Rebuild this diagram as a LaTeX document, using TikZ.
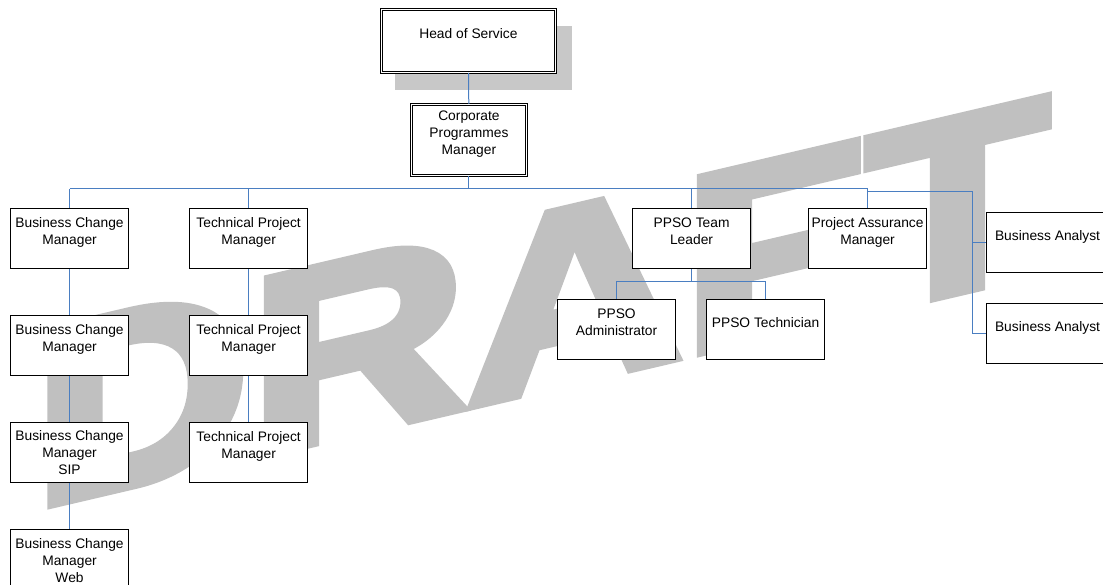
\documentclass[tikz,border=0pt]{standalone}
\usepackage{fontspec}
\setmainfont{Liberation Sans}
\newfontfamily\draftfont{Liberation Sans Bold}[FakeBold=4]
\usetikzlibrary{positioning,
                shadows
                }
\definecolor{orgline}{RGB}{74,126,193}
\definecolor{wmgrey}{RGB}{192,192,192}
\definecolor{shadowgrey}{RGB}{200,200,200}

\begin{document}
\begin{tikzpicture}[
        x = 1pt, y = -1pt,
        node distance = 46pt and 60pt,
        post/.style = {draw, fill=white, line width=1.1pt, minimum width=118pt, minimum height=60pt,
                       inner sep=0pt, align=center, font=\fontsize{13.8}{17}\selectfont},
        chief/.style = {post, double, double distance=1.6pt, line width=0.9pt},
        link/.style = {draw=orgline, line width=1pt},
        stamp/.style = {text=wmgrey, inner sep=0pt, font=\draftfont\fontsize{252}{252}\selectfont,
                        yslant=0.234, xscale=1.19}
    ]
    \useasboundingbox (0,0) rectangle (1103,585);
    \node (draft) [stamp, anchor=base west] at (33,508) {DRAFT};

    \node (head) [chief, minimum width=174pt, minimum height=63pt, anchor=north west,
                  drop shadow={shadow xshift=15pt, shadow yshift=-17pt, shadow scale=1.02,
                               fill=shadowgrey, opacity=1}]
        at (381,9) {Head of Service\\[-2pt]~};
    \node (cpm) [chief, minimum width=115pt, minimum height=71pt, anchor=north west] at (411,104) {
        Corporate\\
        Programmes\\
        Manager\\[-2pt]~
    };

    \node (bcmA) [post, anchor=north west] at (10,208) {Business Change\\Manager\\[-2pt]~};
    \node (bcmB) [post, below=of bcmA] {Business Change\\Manager\\[-2pt]~};
    \node (bcmC) [post, below=of bcmB] {Business Change\\Manager\\SIP};
    \node (bcmD) [post, below=of bcmC, minimum height=62pt] {Business Change\\Manager\\Web};

    \node (tpmA) [post, right=of bcmA] {Technical Project\\Manager\\[-2pt]~};
    \node (tpmB) [post, below=of tpmA] {Technical Project\\Manager\\[-2pt]~};
    \node (tpmC) [post, below=of tpmB] {Technical Project\\Manager\\[-2pt]~};

    \node (ppso) [post, anchor=north west] at (632,208) {PPSO Team\\Leader\\[-2pt]~};
    \node (admin) [post, anchor=north west] at (557,299) {PPSO\\Administrator\\[-2pt]~};
    \node (tech) [post, anchor=north west] at (706,299) {PPSO Technician\\[-2pt]~};
    \node (pam) [post, anchor=north west] at (808,208) {Project Assurance\\Manager\\[-2pt]~};

    \node (baA) [post, anchor=north west, minimum width=122pt] at (986,212) {Business Analyst\\[-2pt]~};
    \node (baB) [post, anchor=north west, minimum width=122pt] at (986,303) {Business Analyst\\[-2pt]~};

    \coordinate (bus) at (0,189);
    \coordinate (rail) at (972,192);

    \draw[link] (head) -- (cpm);
    \draw[link] (cpm.south) -- (cpm.south |- bus);
    \draw[link] (bcmA.north |- bus) -- (pam.north |- bus);
    \foreach \n in {bcmA, tpmA, ppso, pam}
        \draw[link] (\n.north) -- (\n.north |- bus);
    \draw[link] (pam.north |- rail) -- (rail) |- (baB.west);
    \draw[link] (rail |- baA.west) -- (baA.west);

    \draw[link] (bcmA) -- (bcmB);
    \draw[link] (bcmB) -- (bcmC);
    \draw[link] (bcmC) -- (bcmD);
    \draw[link] (tpmA) -- (tpmB);
    \draw[link] (tpmB) -- (tpmC);

    \draw[link] (ppso.south) -- ([yshift=-12pt]ppso.south);
    \draw[link] (admin.north) |- ([yshift=-12pt]ppso.south) -| (tech.north);
\end{tikzpicture}
\end{document}
